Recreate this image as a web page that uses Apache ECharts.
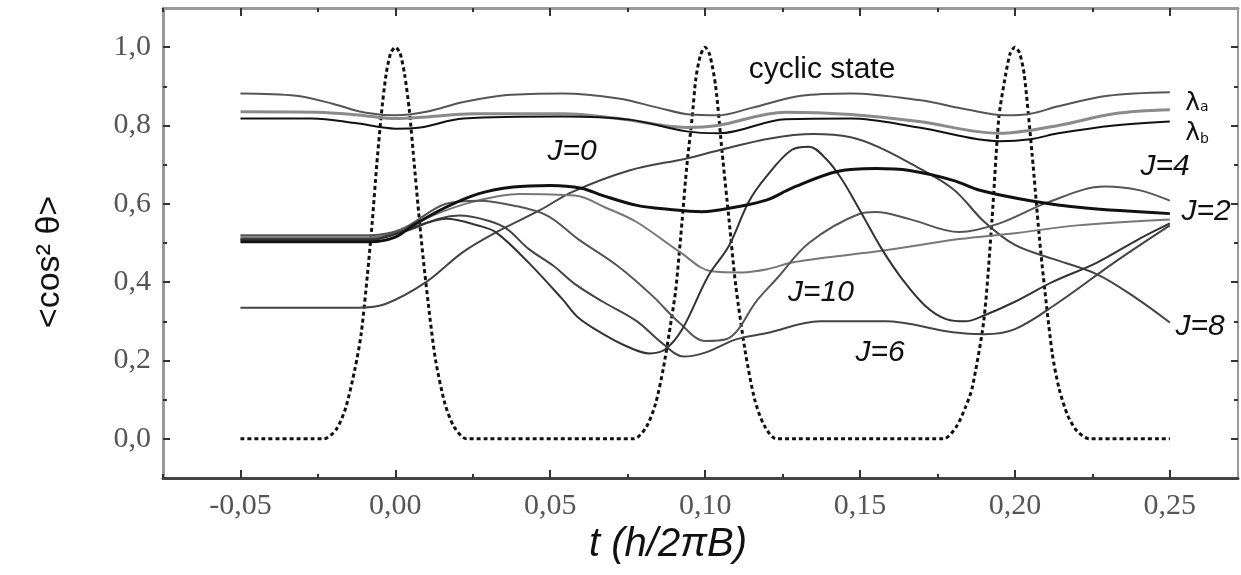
<!DOCTYPE html>
<html>
<head>
<meta charset="utf-8">
<script src="https://cdn.jsdelivr.net/npm/echarts@6/dist/echarts.min.js"></script>
<style>
  html, body { margin: 0; padding: 0; background: #fff; }
  #chart { width: 1241px; height: 575px; }
</style>
</head>
<body>
<div id="chart"></div>
<script>
// tick positions
const xTicks = [-0.05, 0, 0.05, 0.1, 0.15, 0.2, 0.25]
const xMinor = [-0.075, -0.025, 0.025, 0.075, 0.125, 0.175, 0.225]
const yTicks = [0, 0.2, 0.4, 0.6, 0.8, 1.0]
const yMinor = [0.1, 0.3, 0.5, 0.7, 0.9]

// laser pulse train (dashed)
const pulseTrain = [
  [-0.05, 0], [-0.023, 0], [-0.019, 0.025], [-0.016, 0.08], [-0.013, 0.18], [-0.011, 0.27],
  [-0.009, 0.42], [-0.0075, 0.55], [-0.006, 0.70], [-0.0045, 0.83], [-0.003, 0.93], [-0.0015, 0.985],
  [0, 1.0], [0.0015, 0.985], [0.003, 0.93], [0.0045, 0.84], [0.006, 0.71], [0.0075, 0.58],
  [0.009, 0.46], [0.011, 0.32], [0.013, 0.20], [0.016, 0.09], [0.019, 0.03], [0.023, 0],
  [0.077, 0], [0.081, 0.03], [0.084, 0.09], [0.0865, 0.18], [0.089, 0.30], [0.0905, 0.38],
  [0.0926, 0.56], [0.094, 0.69], [0.0958, 0.82], [0.097, 0.92], [0.0985, 0.98], [0.1, 1.0],
  [0.1015, 0.98], [0.1034, 0.90], [0.1055, 0.73], [0.1077, 0.56], [0.1099, 0.39], [0.113, 0.22],
  [0.116, 0.10], [0.119, 0.035], [0.123, 0],
  [0.177, 0], [0.181, 0.03], [0.184, 0.08], [0.1862, 0.13], [0.19, 0.305], [0.1926, 0.56],
  [0.1948, 0.82], [0.197, 0.93], [0.1985, 0.985], [0.2, 1.0], [0.2015, 0.985], [0.203, 0.93],
  [0.2055, 0.73], [0.2083, 0.48], [0.212, 0.22], [0.2142, 0.13], [0.217, 0.06], [0.22, 0.02],
  [0.224, 0], [0.25, 0]
]

// cyclic state curves
const cycTop = [
  [-0.05, 0.882], [-0.032, 0.876], [-0.02, 0.855], [-0.01, 0.833], [0, 0.826], [0.01, 0.835],
  [0.022, 0.86], [0.036, 0.878], [0.054, 0.882], [0.072, 0.869], [0.085, 0.845], [0.095, 0.828],
  [0.104, 0.826], [0.115, 0.845], [0.131, 0.876], [0.147, 0.882], [0.169, 0.865], [0.185, 0.84],
  [0.197, 0.826], [0.205, 0.83], [0.214, 0.849], [0.23, 0.876], [0.25, 0.885]
]
const cycMid = [
  [-0.05, 0.835], [-0.025, 0.834], [-0.01, 0.825], [0, 0.818], [0.01, 0.822], [0.025, 0.83],
  [0.054, 0.83], [0.072, 0.818], [0.094, 0.795], [0.104, 0.80], [0.126, 0.834], [0.147, 0.828],
  [0.169, 0.81], [0.195, 0.78], [0.214, 0.80], [0.232, 0.83], [0.25, 0.84]
]
const cycLow = [
  [-0.05, 0.818], [-0.027, 0.818], [-0.012, 0.805], [0, 0.792], [0.008, 0.795], [0.022, 0.818],
  [0.054, 0.823], [0.0755, 0.815], [0.094, 0.785], [0.1045, 0.78], [0.126, 0.816], [0.147, 0.818],
  [0.169, 0.795], [0.195, 0.76], [0.205, 0.765], [0.214, 0.78], [0.232, 0.80], [0.25, 0.81]
]

// J states
const j0 = [
  [-0.05, 0.335], [-0.012, 0.335], [-0.003, 0.345], [0.0099, 0.40], [0.0217, 0.476], [0.0325, 0.527],
  [0.0465, 0.583], [0.057, 0.63], [0.0755, 0.685], [0.094, 0.716], [0.1045, 0.737], [0.121, 0.767],
  [0.135, 0.778], [0.147, 0.77], [0.156, 0.745], [0.167, 0.70], [0.18, 0.638], [0.19, 0.555],
  [0.2, 0.495], [0.212, 0.46], [0.2265, 0.42], [0.239, 0.36], [0.25, 0.297]
]
const j2 = [
  [-0.05, 0.503], [-0.008, 0.503], [0, 0.515], [0.0055, 0.544], [0.016, 0.59], [0.027, 0.626],
  [0.038, 0.643], [0.05, 0.647], [0.06, 0.64], [0.067, 0.621], [0.078, 0.596], [0.088, 0.586],
  [0.099, 0.58], [0.11, 0.592], [0.12, 0.61], [0.128, 0.64], [0.143, 0.683], [0.155, 0.69],
  [0.166, 0.685], [0.18, 0.66], [0.189, 0.634], [0.205, 0.608], [0.222, 0.59], [0.25, 0.575]
]
const j4 = [
  [-0.05, 0.515], [-0.008, 0.515], [0.002, 0.53], [0.012, 0.57], [0.025, 0.605], [0.04, 0.625],
  [0.058, 0.621], [0.068, 0.59], [0.078, 0.553], [0.092, 0.476], [0.102, 0.428], [0.112, 0.425],
  [0.12, 0.433], [0.128, 0.45], [0.139, 0.463], [0.157, 0.48], [0.182, 0.51], [0.2, 0.525],
  [0.22, 0.545], [0.25, 0.56]
]
const j6 = [
  [-0.05, 0.51], [-0.008, 0.51], [0.002, 0.53], [0.0206, 0.57], [0.03, 0.557], [0.036, 0.536],
  [0.043, 0.485], [0.051, 0.442], [0.058, 0.395], [0.067, 0.35], [0.078, 0.30], [0.086, 0.245],
  [0.093, 0.21], [0.1, 0.22], [0.11, 0.254], [0.12, 0.27], [0.137, 0.30], [0.158, 0.30],
  [0.18, 0.272], [0.19, 0.267], [0.2, 0.28], [0.214, 0.348], [0.232, 0.45], [0.25, 0.545]
]
const j8 = [
  [-0.05, 0.52], [-0.008, 0.52], [0.002, 0.535], [0.0164, 0.6], [0.027, 0.608], [0.038, 0.596],
  [0.049, 0.57], [0.059, 0.51], [0.072, 0.44], [0.083, 0.365], [0.0916, 0.297], [0.1, 0.25],
  [0.107, 0.255], [0.117, 0.356], [0.123, 0.408], [0.1335, 0.50], [0.1497, 0.574], [0.155, 0.579],
  [0.166, 0.561], [0.182, 0.528], [0.195, 0.55], [0.211, 0.605], [0.229, 0.644], [0.24, 0.635],
  [0.25, 0.608]
]
const j10 = [
  [-0.05, 0.508], [-0.008, 0.508], [0.003, 0.53], [0.0164, 0.562], [0.027, 0.544], [0.0325, 0.527],
  [0.043, 0.45], [0.054, 0.356], [0.059, 0.31], [0.067, 0.268], [0.075, 0.235], [0.082, 0.218],
  [0.087, 0.228], [0.0926, 0.28], [0.101, 0.416], [0.1077, 0.493], [0.114, 0.604], [0.1196, 0.668],
  [0.128, 0.738], [0.1335, 0.746], [0.139, 0.715], [0.144, 0.664], [0.1497, 0.587], [0.157, 0.485],
  [0.1636, 0.408], [0.171, 0.34], [0.178, 0.305], [0.184, 0.30], [0.19, 0.315], [0.2, 0.35],
  [0.212, 0.40], [0.2265, 0.45], [0.24, 0.51], [0.25, 0.55]
]

const chartDom = document.getElementById('chart')
const myChart = echarts.init(chartDom, null, { renderer: 'canvas' })

const labelFont = { fontFamily: 'Liberation Serif', fontSize: 30, color: '#555' }

function xAxisDef(position, values, len, line) {
  return {
    type: 'value', position: position, min: -0.075, max: 0.272,
    axisLine: line ? { show: true, onZero: false, lineStyle: line } : { show: false, onZero: false },
    axisTick: { show: true, inside: true, length: len, customValues: values, lineStyle: { color: '#333', width: 2 } },
    axisLabel: { show: false },
    splitLine: { show: false }
  }
}
function yAxisDef(position, values, len, line) {
  return {
    type: 'value', position: position, min: -0.1, max: 1.1,
    axisLine: line ? { show: true, onZero: false, lineStyle: line } : { show: false, onZero: false },
    axisTick: { show: true, inside: true, length: len, customValues: values, lineStyle: { color: '#333', width: 2 } },
    axisLabel: { show: false },
    splitLine: { show: false }
  }
}

const xMain = xAxisDef('bottom', xTicks, 8, { color: '#444', width: 3 })
xMain.axisLabel = Object.assign({
  show: true, margin: 13, customValues: xTicks,
  formatter: v => v.toFixed(2).replace('.', ',')
}, labelFont)
const yMain = yAxisDef('left', yTicks, 7, { color: '#999', width: 3 })
yMain.axisLabel = Object.assign({
  show: true, margin: 12, customValues: yTicks,
  formatter: v => v.toFixed(1).replace('.', ',')
}, labelFont)

function curve(data, color, width) {
  return {
    type: 'line', data: data, smooth: 0.35, showSymbol: false, symbol: 'none',
    xAxisIndex: 0, yAxisIndex: 0,
    lineStyle: { color: color, width: width }
  }
}

const jFont = { fontFamily: 'Liberation Sans', fontStyle: 'italic', fontSize: 30, fill: '#111', align: 'center', verticalAlign: 'middle' }
function tag(text, x, y, extra) {
  return { type: 'text', x: x, y: y, style: Object.assign({ text: text }, jFont, extra || {}) }
}

const option = {
  animation: false,
  backgroundColor: '#fff',
  grid: { left: 163, right: 3, top: 8, bottom: 97, containLabel: false },
  xAxis: [
    xMain,
    xAxisDef('bottom', xMinor, 4, null),
    xAxisDef('top', xTicks, 8, { color: '#999', width: 3 }),
    xAxisDef('top', xMinor, 4, null)
  ],
  yAxis: [
    yMain,
    yAxisDef('left', yMinor, 4, null),
    yAxisDef('right', yTicks, 7, { color: '#999', width: 2 }),
    yAxisDef('right', yMinor, 4, null)
  ],
  series: [
    Object.assign(curve(pulseTrain, '#111', 3), { smooth: 0.25, lineStyle: { color: '#111', width: 3, type: [4, 3] } }),
    curve(cycTop, '#555', 2),
    curve(cycMid, '#8a8a8a', 3),
    curve(cycLow, '#111', 2),
    curve(j0, '#444', 2),
    curve(j4, '#777', 2),
    curve(j6, '#444', 2),
    curve(j8, '#555', 2),
    curve(j10, '#333', 2),
    curve(j2, '#111', 3)
  ],
  graphic: [
    tag('cyclic state', 822, 70, { fontStyle: 'normal', fontSize: 30 }),
    tag('J=0', 572, 152),
    tag('J=4', 1165, 167),
    tag('J=2', 1206, 212),
    tag('J=8', 1200, 327),
    tag('J=10', 821, 293),
    tag('J=6', 880, 353),
    { type: 'text', x: 1197, y: 103, style: { text: '{l|λ}{s|a}', rich: { l: { fontSize: 25, fontFamily: 'DejaVu Sans' }, s: { fontSize: 14, fontFamily: 'DejaVu Sans', padding: [8, 0, 0, 0] } }, fill: '#111', align: 'center', verticalAlign: 'middle' } },
    { type: 'text', x: 1197, y: 133, style: { text: '{l|λ}{s|b}', rich: { l: { fontSize: 25, fontFamily: 'DejaVu Sans' }, s: { fontSize: 14, fontFamily: 'DejaVu Sans', padding: [12, 0, 0, 0] } }, fill: '#111', align: 'center', verticalAlign: 'middle' } },
    { type: 'text', x: 668, y: 545, style: { text: 't (h/2πB)', fontFamily: 'Liberation Sans', fontStyle: 'italic', fontSize: 40, fill: '#111', align: 'center', verticalAlign: 'middle' } },
    { type: 'text', x: 50, y: 262, rotation: Math.PI / 2, style: { text: '<cos² θ>', fontFamily: 'Liberation Sans', fontSize: 34, fill: '#111', align: 'center', verticalAlign: 'middle' } }
  ]
}
option && myChart.setOption(option)
</script>
</body>
</html>
